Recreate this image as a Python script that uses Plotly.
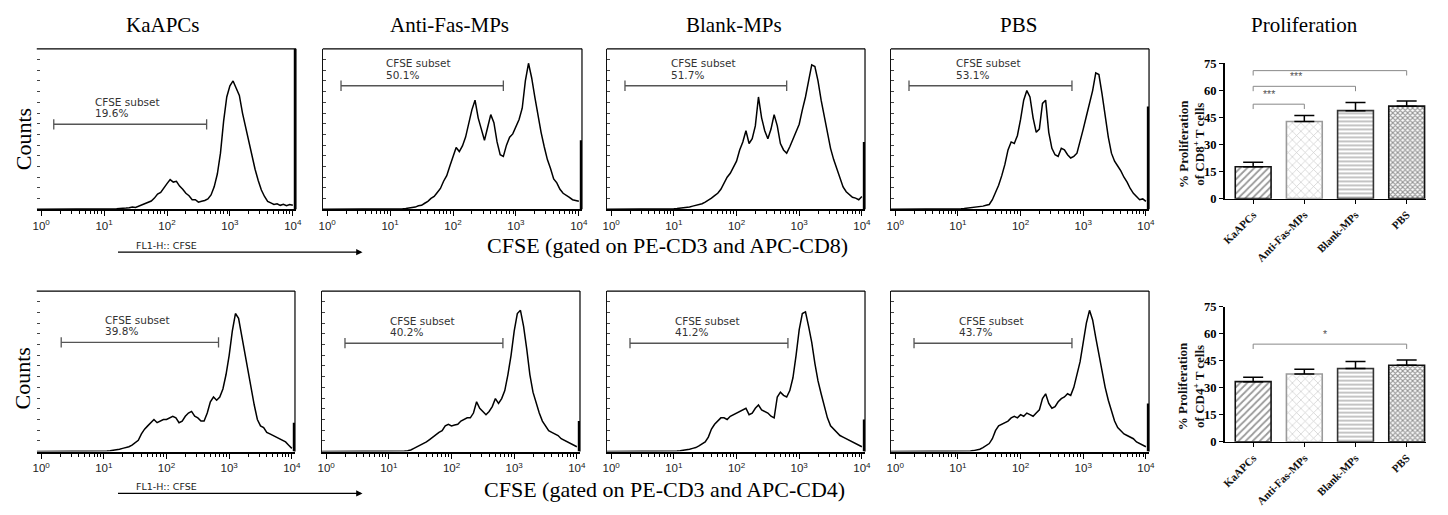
import numpy as np
import plotly.graph_objects as go

# ------------------------------------------------------------------ data
GROUPS = ["KaAPCs", "Anti-Fas-MPs", "Blank-MPs", "PBS"]

CD8_MEAN = [17.7, 42.8, 48.8, 51.3]
CD8_SEM = [2.5, 3.3, 4.5, 2.9]
CD4_MEAN = [33.4, 37.6, 40.7, 42.5]
CD4_SEM = [2.4, 2.7, 3.9, 2.9]

CD8_SIG_PAIRS = [(0, 1), (0, 2), (0, 3)]
CD8_SIG_LEVEL = [52.4, 62.3, 71.0]
CD8_SIG_TEXT = ["***", "***", "***"]
CD4_SIG_PAIRS = [(0, 3)]
CD4_SIG_LEVEL = [54.2]
CD4_SIG_TEXT = ["*"]

CD8_SUBSET = ["19.6%", "50.1%", "51.7%", "53.1%"]
CD4_SUBSET = ["39.8%", "40.2%", "41.2%", "43.7%"]
CD8_GATE_LO = [0.20, 0.22, 0.22, 0.22]
CD8_GATE_HI = [2.63, 2.80, 2.80, 2.82]
CD4_GATE_LO = [0.32, 0.30, 0.30, 0.30]
CD4_GATE_HI = [2.83, 2.82, 2.82, 2.82]

# log10(CFSE) bin centres, 0.80 .. 4.00
LOG_BINS = [round(0.8 + 0.05 * i, 2) for i in range(65)]

# counts, % of panel height
CD8_KAAPCS = [0, 0, 0, 0, 0, 0, 0, 0.3, 0.3, 0.5,
              0.5, 0.8, 1, 1.4, 1.2, 2, 2.8, 3.3, 4.5, 5.2,
              7, 9.5, 10.5, 13.5, 16, 18.5, 17, 17.5, 14.5, 12.5,
              10, 8.5, 6, 6, 4.5, 5, 5.5, 6.5, 9, 14,
              22, 35, 55, 70, 77, 80, 76, 71, 60, 51,
              42, 33, 25, 18, 12, 8, 5, 4, 3, 3.5,
              2.5, 3.2, 2.3, 3, 2.5]
CD8_ANTIFAS = [0, 0, 0, 0, 0, 0, 0, 0, 0.3, 0.5,
               0.8, 1.2, 1.4, 2.2, 2.5, 3.8, 5, 6.8, 8, 10.5,
               13, 17.5, 21, 27, 33, 38.5, 36, 39.5, 45, 53,
               62, 68, 57, 50, 43, 51, 59, 54, 42, 34,
               33, 40, 45, 47, 51, 56, 63, 80, 91, 82,
               70, 58, 48, 39, 31, 25.5, 19, 16.5, 12.5, 10,
               9, 7.5, 6, 5.5, 5]
CD8_BLANK = [0, 0, 0, 0.2, 0.3, 0.5, 0.7, 1, 1.2, 1.5,
             2, 2.5, 3, 3.5, 4.5, 5.5, 7, 8.5, 10, 12.5,
             16, 20, 22.5, 26, 30, 37, 42, 49, 41, 44,
             52, 70, 57, 49, 44, 50, 59, 52, 41, 37,
             35, 39, 44, 48, 53, 62, 70, 80, 90, 89,
             80, 68, 58, 47, 38, 31, 25, 19.5, 14, 11,
             9, 7.5, 7, 6, 8]
CD8_PBS = [0, 0, 0, 0, 0.2, 0.3, 0.5, 0.7, 1, 1,
           1.5, 1.5, 2, 2.5, 3, 6, 10, 15, 21, 28,
           37, 42, 41, 46, 56, 68, 74, 70, 57, 48,
           50, 66, 68, 48, 38, 34, 33, 38, 37, 34,
           32, 33, 35, 42, 50, 58, 66, 74, 85, 84,
           72, 58, 45, 35, 30, 27, 24, 20, 17, 13,
           10, 8, 6, 6.5, 5]
CD4_KAAPCS = [0, 0, 0, 0, 0, 0.3, 0.5, 0.7, 1, 1.5,
              2, 2.5, 3, 4, 5.5, 7, 11, 14, 16, 18,
              20, 18, 19, 20, 20, 21, 22, 21, 18, 19,
              22, 24, 25, 22, 21, 19, 19, 24, 31, 34,
              32, 34, 39, 48, 60, 75, 86, 83, 72, 62,
              52, 40, 29, 20, 16, 15, 12, 11, 10, 9,
              8, 7, 6, 4, 2]
CD4_ANTIFAS = [0, 0, 0, 0, 0, 0, 0, 0, 0, 0.3,
               0.5, 1, 2, 3, 3.5, 4.5, 6, 7.5, 9, 11,
               12, 13, 16, 17, 16, 16.5, 17, 19, 20, 21,
               21, 24, 31, 27, 25, 23, 25, 28, 33, 30,
               33, 38, 48, 60, 75, 86, 88, 78, 64, 48,
               37, 30, 24, 19, 16, 13, 12, 11, 10, 8,
               7, 6, 5, 4, 3]
CD4_BLANK = [0, 0, 0, 0, 0.2, 0.3, 0.5, 0.7, 1, 1.5,
             2, 2.5, 3.5, 4.5, 6, 9, 14, 17, 19, 21,
             21, 20, 22, 23, 24, 25, 26, 27, 23, 24,
             27, 29, 26, 25, 24, 22, 21, 34, 37, 35,
             34, 38, 46, 60, 76, 86, 87, 78, 68, 55,
             44, 36, 28, 21, 16, 14, 12, 10, 9, 8,
             7, 6, 5, 4, 3]
CD4_PBS = [0, 0, 0, 0, 0, 0, 0, 0.2, 0.3, 0.6,
           1, 1.5, 2.5, 3.5, 5, 8, 13, 16, 17, 18,
           19, 21, 22, 21, 23, 22, 24, 23, 22, 24,
           26, 33, 36, 30, 27, 28, 31, 33, 34, 36,
           35, 40, 48, 56, 68, 80, 88, 82, 71, 60,
           49, 40, 32, 25, 19, 15, 13, 11, 10, 9,
           8, 6, 5, 4, 3]

# off-scale (last channel) pile-up, % of panel height
CD8_OFFSCALE = [100, 43, 42, 64]
CD4_OFFSCALE = [18, 19, 20, 30]

DECADE_LABELS = ["10<sup>0</sup>", "10<sup>1</sup>", "10<sup>2</sup>",
                 "10<sup>3</sup>", "10<sup>4</sup>"]

# ------------------------------------------------------------------ layout helpers
W, H = 1448, 515


def fx(p):
    return p / W


def fy(p):
    return 1 - p / H


MINOR = [float(np.log10(m) + d) for d in range(4) for m in range(2, 10)]
SERIF = "Liberation Serif, Times New Roman, serif"
SANS = "DejaVu Sans, Verdana, sans-serif"
ARIAL = "Liberation Sans, Arial, sans-serif"

rows = [
    dict(hists=[CD8_KAAPCS, CD8_ANTIFAS, CD8_BLANK, CD8_PBS], spikes=CD8_OFFSCALE,
         pct=CD8_SUBSET, lo=CD8_GATE_LO, hi=CD8_GATE_HI,
         xs=[(33, 294), (321, 582), (607, 867), (893, 1153)], ytop=43, ybot=208,
         gate_y=[53, 77, 77, 77], label_x=[0.83, 0.91, 0.93, 0.93]),
    dict(hists=[CD4_KAAPCS, CD4_ANTIFAS, CD4_BLANK, CD4_PBS], spikes=CD4_OFFSCALE,
         pct=CD4_SUBSET, lo=CD4_GATE_LO, hi=CD4_GATE_HI,
         xs=[(33, 293), (320, 580), (607, 867), (893, 1153)], ytop=292, ybot=457,
         gate_y=[68, 67.5, 67.5, 67.5], label_x=[0.99, 0.99, 0.98, 0.98]),
]

fig = go.Figure()
layout = {}
shapes = []
annotations = []

k = 0
for row in rows:
    for j in range(4):
        k += 1
        xn = "x" if k == 1 else f"x{k}"
        yn = "y" if k == 1 else f"y{k}"
        xa = "xaxis" if k == 1 else f"xaxis{k}"
        ya = "yaxis" if k == 1 else f"yaxis{k}"
        x0p, x1p = row["xs"][j]
        layout[xa] = dict(
            domain=[fx(x0p), fx(x1p)], range=[-0.07, 4.05], anchor=yn,
            showline=True, linecolor="black", linewidth=2,
            ticks="outside", tickvals=[0, 1, 2, 3, 4], ticktext=DECADE_LABELS,
            ticklen=5, tickwidth=1, tickcolor="black",
            tickfont=dict(family=ARIAL, size=11.5, color="#222"),
            minor=dict(tickmode="array", tickvals=MINOR, ticks="outside", ticklen=3,
                       tickwidth=1, tickcolor="black", showgrid=False),
            showgrid=False, zeroline=False, fixedrange=True)
        layout[ya] = dict(
            domain=[fy(row["ybot"]), fy(row["ytop"])], range=[0, 100], anchor=xn,
            showline=(j != 0), linecolor="#111", linewidth=1,
            ticks="inside", tickmode="linear", tick0=0, dtick=100 / 15, ticklen=3,
            tickcolor="#444", showticklabels=False, showgrid=False, zeroline=False,
            fixedrange=True)

        hist = row["hists"][j]
        fig.add_trace(go.Scatter(
            x=[-0.07] + LOG_BINS, y=[0] + hist, mode="lines",
            line=dict(color="black", width=1.5), xaxis=xn, yaxis=yn,
            hoverinfo="skip", showlegend=False))
        fig.add_trace(go.Scatter(
            x=[4.035, 4.035], y=[0, row["spikes"][j]], mode="lines",
            line=dict(color="black", width=2.5), xaxis=xn, yaxis=yn,
            hoverinfo="skip", showlegend=False))

        # box (top, right)
        for (a0, b0, a1, b1) in [(0, 1, 1, 1), (1, 0, 1, 1)]:
            shapes.append(dict(type="line", xref=f"{xn} domain", yref=f"{yn} domain",
                               x0=a0, y0=b0, x1=a1, y1=b1,
                               line=dict(color="black", width=1.2)))
        # gate
        gy = row["gate_y"][j]
        lo, hi = row["lo"][j], row["hi"][j]
        shapes.append(dict(type="line", xref=xn, yref=yn, x0=lo, x1=hi, y0=gy, y1=gy,
                           line=dict(color="#555", width=1.3)))
        for gx in (lo, hi):
            shapes.append(dict(type="line", xref=xn, yref=yn, x0=gx, x1=gx,
                               y0=gy - 3.2, y1=gy + 3.2,
                               line=dict(color="#555", width=1.3)))
        annotations.append(dict(xref=xn, yref=yn, x=row["label_x"][j], y=gy + 14,
                                text="CFSE subset", showarrow=False, xanchor="left",
                                yanchor="middle",
                                font=dict(family=SANS, size=10.5, color="#333")))
        annotations.append(dict(xref=xn, yref=yn, x=row["label_x"][j], y=gy + 7,
                                text=row["pct"][j], showarrow=False, xanchor="left",
                                yanchor="middle",
                                font=dict(family=SANS, size=10.5, color="#333")))

# ------------------------------------------------------------------ bar charts
BAR_STYLE = [
    dict(shape="/", fg="#333", size=5, sol=0.35, line="#111"),
    dict(shape="x", fg="#999", size=6, sol=0.22, line="#9a9a9a"),
    dict(shape="-", fg="#555", size=4, sol=0.35, line="#333"),
    dict(shape="x", fg="#222", size=3.5, sol=0.55, line="#111"),
]

bar_panels = [
    dict(mean=CD8_MEAN, sem=CD8_SEM, pairs=CD8_SIG_PAIRS, level=CD8_SIG_LEVEL,
         stars=CD8_SIG_TEXT, star_x=[0.31, 0.83, 1.43], ytop=58, ybot=197,
         title="<b>% Proliferation</b><br><b>of CD8<sup>+</sup> T cells</b>", title_y=141),
    dict(mean=CD4_MEAN, sem=CD4_SEM, pairs=CD4_SIG_PAIRS, level=CD4_SIG_LEVEL,
         stars=CD4_SIG_TEXT, star_x=[1.4], ytop=308, ybot=447,
         title="<b>% Proliferation</b><br><b>of CD4<sup>+</sup> T cells</b>", title_y=390),
]

for bp in bar_panels:
    k += 1
    xn, yn = f"x{k}", f"y{k}"
    layout[f"xaxis{k}"] = dict(
        domain=[fx(1229), fx(1432)], range=[-0.56, 3.38], anchor=yn,
        showline=True, linecolor="black", linewidth=1.5,
        tickvals=[0, 1, 2, 3], ticktext=GROUPS, tickangle=-45,
        ticks="outside", ticklen=4, tickwidth=1.2, tickcolor="black",
        tickfont=dict(family=SERIF, size=11, color="#111", weight="bold"),
        showgrid=False, zeroline=False, fixedrange=True)
    layout[f"yaxis{k}"] = dict(
        domain=[fy(bp["ybot"]), fy(bp["ytop"])], range=[0, 75], anchor=xn,
        showline=True, linecolor="black", linewidth=1.5,
        tickvals=[0, 15, 30, 45, 60, 75], ticks="outside", ticklen=4, tickwidth=1.2,
        tickcolor="black",
        tickfont=dict(family=SERIF, size=12.5, color="black", weight="bold"),
        showgrid=False, zeroline=False, fixedrange=True)
    for i, st in enumerate(BAR_STYLE):
        fig.add_trace(go.Bar(
            x=[i], y=[bp["mean"][i]], width=0.7, xaxis=xn, yaxis=yn,
            marker=dict(color="white",
                        line=dict(color=st["line"], width=1.6),
                        pattern=dict(shape=st["shape"], fgcolor=st["fg"], bgcolor="white",
                                     size=st["size"], solidity=st["sol"])),
            error_y=dict(type="data", array=[bp["sem"][i]], arrayminus=[0],
                         symmetric=False, color="black", thickness=1.5, width=10),
            hoverinfo="skip", showlegend=False))
    for (a, b), lev, s, sx in zip(bp["pairs"], bp["level"], bp["stars"], bp["star_x"]):
        shapes.append(dict(type="path", xref=xn, yref=yn,
                           path=f"M {a},{lev - 2.7} L {a},{lev} L {b},{lev} L {b},{lev - 2.7}",
                           line=dict(color="#888", width=1)))
        annotations.append(dict(xref=xn, yref=yn, x=sx, y=lev + 5.5, text=s,
                                showarrow=False, xanchor="center", yanchor="middle",
                                font=dict(family=ARIAL, size=10.5, color="#555")))
    annotations.append(dict(xref="paper", yref="paper", x=fx(1196), y=fy(bp["title_y"]),
                            text=bp["title"], textangle=-90, showarrow=False,
                            xanchor="center", yanchor="middle",
                            font=dict(family=SERIF, size=13, color="#111")))

# ------------------------------------------------------------------ page texts
HEADERS = ["KaAPCs", "Anti-Fas-MPs", "Blank-MPs", "PBS", "Proliferation"]
for txt, xc in zip(HEADERS, [160, 449, 735, 1022, 1310]):
    annotations.append(dict(xref="paper", yref="paper", x=fx(xc), y=fy(19), text=txt,
                            showarrow=False, xanchor="center", yanchor="middle",
                            font=dict(family=SERIF, size=21, color="black")))
for yc in (136, 382):
    annotations.append(dict(xref="paper", yref="paper", x=fx(19), y=fy(yc), text="Counts",
                            textangle=-90, showarrow=False, xanchor="center",
                            yanchor="middle",
                            font=dict(family=SERIF, size=22, color="black")))
for txt, xc, yc in [("CFSE (gated on PE-CD3 and APC-CD8)", 668, 245),
                    ("CFSE (gated on PE-CD3 and APC-CD4)", 665, 496)]:
    annotations.append(dict(xref="paper", yref="paper", x=fx(xc), y=fy(yc), text=txt,
                            showarrow=False, xanchor="center", yanchor="middle",
                            font=dict(family=SERIF, size=22, color="black")))
for yt, ya in [(245, 252), (493, 500)]:
    annotations.append(dict(xref="paper", yref="paper", x=fx(164), y=fy(yt),
                            text="FL1-H:: CFSE", showarrow=False, xanchor="center",
                            yanchor="middle",
                            font=dict(family=SANS, size=9.5, color="#222")))
    annotations.append(dict(xref="paper", yref="paper", x=fx(361), y=fy(ya), text="",
                            showarrow=True, axref="pixel", ayref="pixel", ax=-246, ay=0,
                            arrowhead=2, arrowsize=0.9, arrowwidth=1.4, arrowcolor="black"))

fig.update_layout(
    width=W, height=H, margin=dict(l=0, r=0, t=0, b=0),
    paper_bgcolor="white", plot_bgcolor="white", showlegend=False,
    bargap=0, shapes=shapes, annotations=annotations, **layout)

fig.write_html("out.html", config={"displayModeBar": False, "staticPlot": True},
               post_script="document.body.style.margin='0';document.body.style.overflow='hidden';")
